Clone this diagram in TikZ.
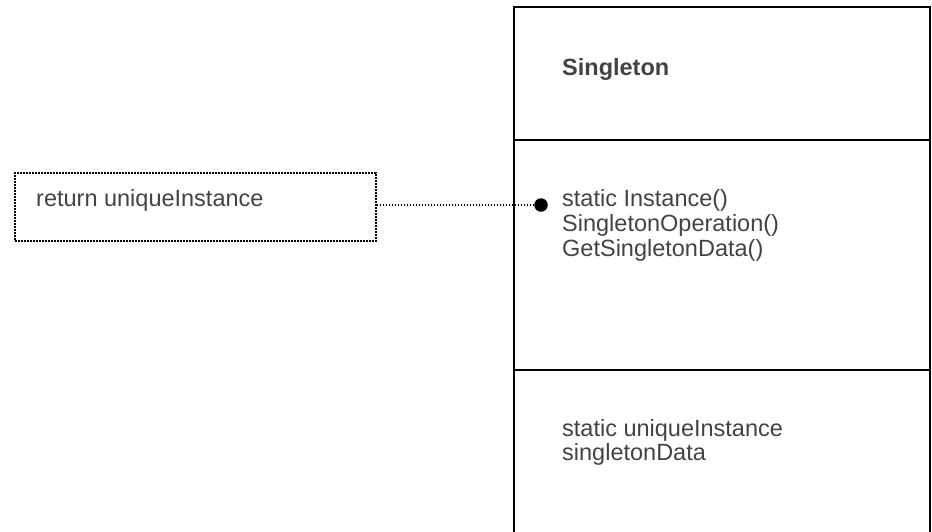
\documentclass[tikz,border=0pt]{standalone}
\usepackage{fontspec}
\setmainfont{Liberation Sans}
\definecolor{textgray}{HTML}{434343}
\tikzset{
  label text/.style={anchor=base west, inner sep=0pt, text=textgray,
    font=\fontsize{23.5}{25}\selectfont},
  class line/.style={draw=black, line width=1.4pt},
  note box/.style={draw=black, dash pattern=on 1.8pt off 1.2pt, line width=1.6pt},
  link/.style={draw=black, dash pattern=on 1.8pt off 1.2pt, line width=1.5pt},
  pin/.style={circle, fill=black, inner sep=0pt, minimum size=13.5pt}
}
\begin{document}
\begin{tikzpicture}[x=1pt,y=-1pt]
  \useasboundingbox (0,0) rectangle (932,531);
  \clip (0,0) rectangle (932,531);

  % class box: name, operations and attribute compartments
  \draw[class line] (514,545) -- (514,7) -- (930,7) -- (930,545);
  \draw[class line] (514,140) -- (930,140);
  \draw[class line] (514,370) -- (930,370);

  \node[label text, font=\bfseries\fontsize{23.5}{25}\selectfont] (name) at (562,75) {Singleton};

  \node[label text] (op1) at (562,206.5) {static Instance()};
  \node[label text] (op2) at (562,231.5) {SingletonOperation()};
  \node[label text] (op3) at (562,256.5) {GetSingletonData()};

  \node[label text] (at1) at (562,436.5) {static uniqueInstance};
  \node[label text] (at2) at (562,460.5) {singletonData};

  % note attached to the Instance() operation
  \node[note box, minimum width=361pt, minimum height=68pt, anchor=north west,
        inner sep=0pt] (note) at (14,172) {};
  \node[label text] (notetext) at (36,206) {return uniqueInstance};

  \node[pin] (dot) at (541,205) {};
  \draw[link] (note.east |- dot) -- (dot.center);
\end{tikzpicture}
\end{document}
